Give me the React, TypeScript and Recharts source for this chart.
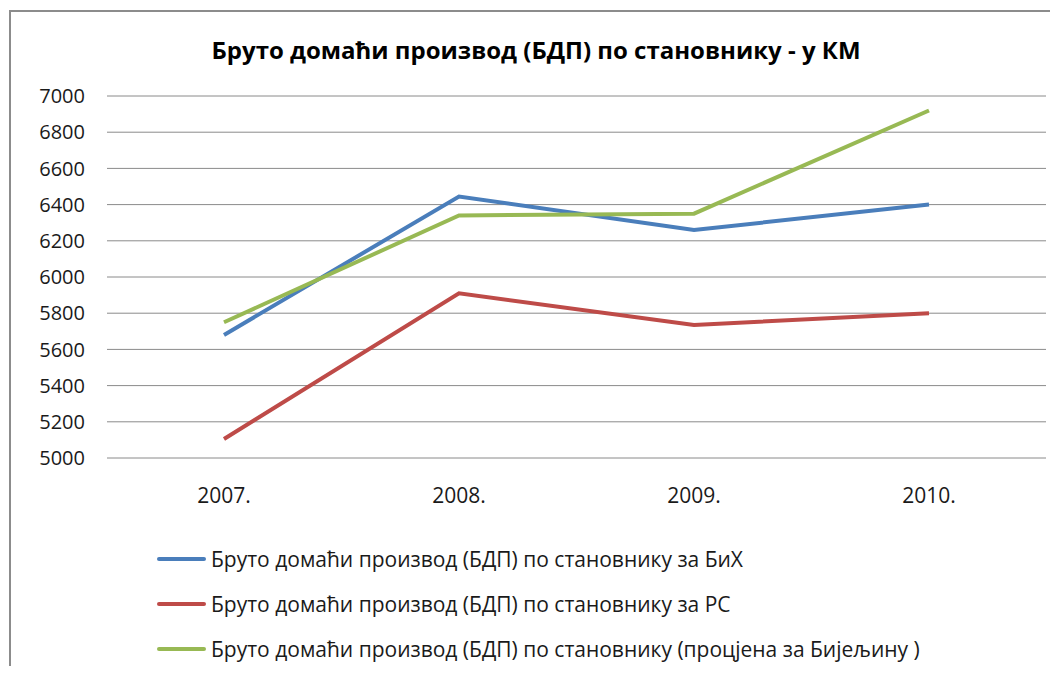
import React from "react";
import { LineChart, Line, XAxis, YAxis, CartesianGrid } from "recharts";

const years = ["2007.", "2008.", "2009.", "2010."];
const bih = [5680, 6445, 6260, 6400];
const rs = [5105, 5910, 5735, 5800];
const bijeljina = [5750, 6340, 6350, 6920];
const yTicks = [5000, 5200, 5400, 5600, 5800, 6000, 6200, 6400, 6600, 6800, 7000];

const series = [
  { key: "bih", name: "Бруто домаћи производ (БДП) по становнику за БиХ", color: "#4A7EBB" },
  { key: "rs", name: "Бруто домаћи производ (БДП) по становнику за РС", color: "#BE4B48" },
  { key: "bij", name: "Бруто домаћи производ (БДП) по становнику (процјена за Бијељину )", color: "#98B954" },
];

const data = years.map((y, i) => ({ year: y, bih: bih[i], rs: rs[i], bij: bijeljina[i] }));

const FONT = "'Open Sans', Lato, sans-serif";

export default function App() {
  return (
    <div style={{ position: "relative", width: 1058, height: 674, margin: -8, overflow: "hidden", background: "#fff" }}>
      <div
        style={{
          position: "absolute",
          left: 9,
          top: 10,
          width: 1100,
          height: 720,
          border: "2px solid #8c8c8c",
          boxSizing: "border-box",
        }}
      />
      <div
        style={{
          position: "absolute",
          left: 0,
          top: 33,
          width: 1072,
          textAlign: "center",
          fontFamily: FONT,
          fontWeight: 700,
          fontSize: 24,
          lineHeight: "34px",
          color: "#000",
        }}
      >
        Бруто домаћи производ (БДП) по становнику - у КМ
      </div>
      <div style={{ position: "absolute", left: 0, top: 0 }}>
        <LineChart width={1058} height={674} data={data} margin={{ top: 96, right: 12, left: 0, bottom: 186 }}>
          <CartesianGrid vertical={false} stroke="#8a8a8a" strokeWidth={1} />
          <XAxis
            dataKey="year"
            height={30}
            axisLine={false}
            tickLine={false}
            tickSize={0}
            tickMargin={30}
            padding={{ left: 117, right: 117 }}
            tick={{ fill: "#1a1a1a", fontSize: 21, fontFamily: FONT }}
            interval={0}
          />
          <YAxis
            width={107}
            domain={[5000, 7000]}
            ticks={yTicks}
            interval={0}
            axisLine={false}
            tickLine={false}
            tickSize={0}
            tickMargin={22}
            tick={{ fill: "#1a1a1a", fontSize: 20, fontFamily: FONT }}
          />
          {series.map((s) => (
            <Line
              key={s.key}
              dataKey={s.key}
              name={s.name}
              stroke={s.color}
              strokeWidth={4}
              dot={false}
              type="linear"
              isAnimationActive={false}
            />
          ))}
        </LineChart>
      </div>
      <div style={{ position: "absolute", left: 157, top: 536, fontFamily: FONT, fontSize: 21, color: "#1a1a1a" }}>
        {series.map((s) => (
          <div key={s.key} style={{ display: "flex", alignItems: "center", height: 45 }}>
            <div style={{ width: 49, height: 4, background: s.color, borderRadius: 2, marginRight: 5 }} />
            <span>{s.name}</span>
          </div>
        ))}
      </div>
    </div>
  );
}
